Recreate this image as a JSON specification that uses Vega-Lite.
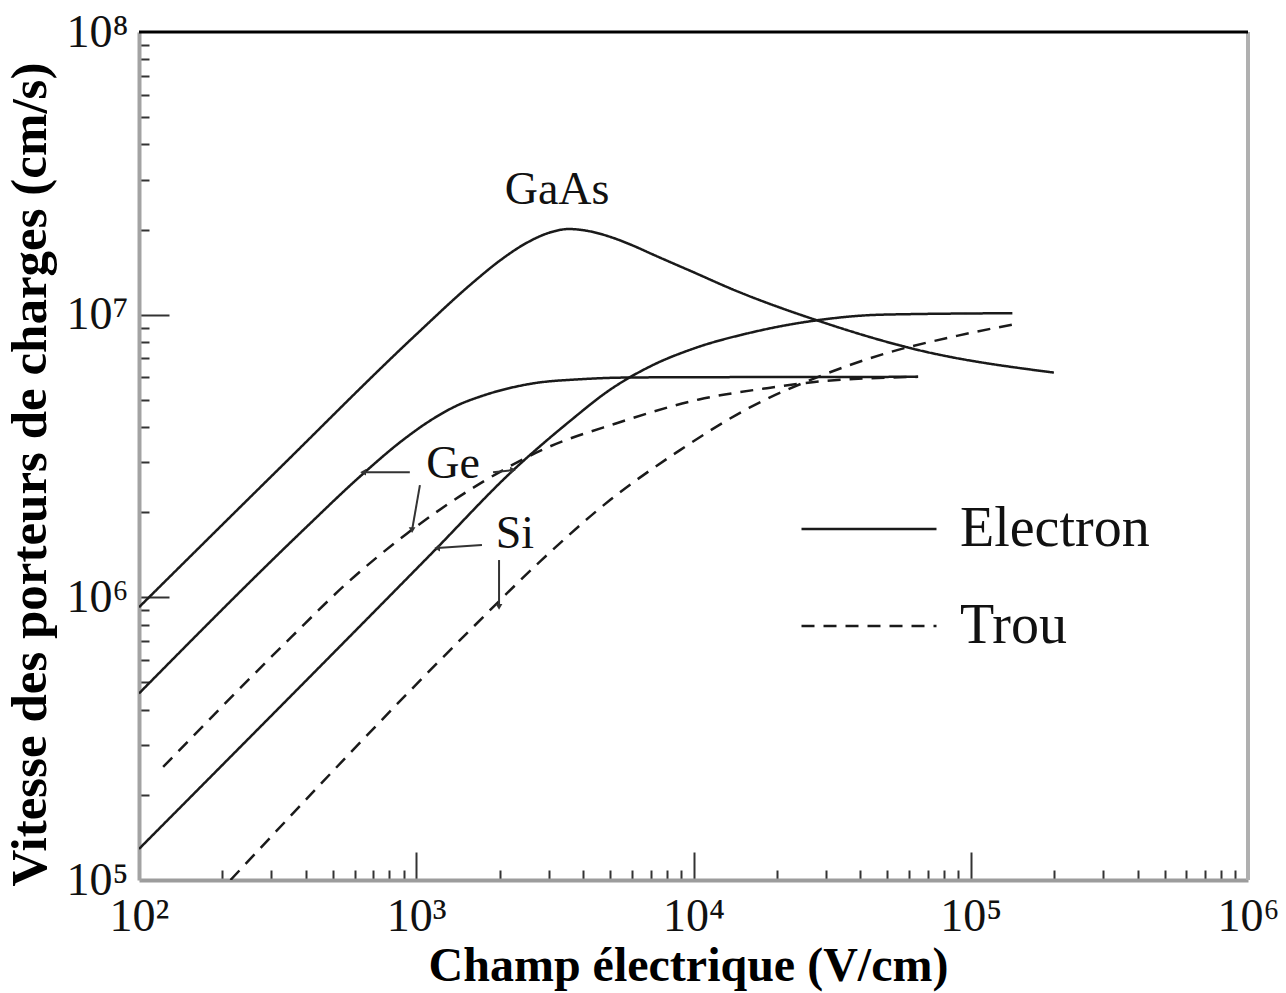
{
  "$schema": "https://vega.github.io/schema/vega-lite/v6.json",
  "width": 1109,
  "height": 848,
  "autosize": {"type": "none"},
  "padding": {"left": 139, "top": 32, "right": 38, "bottom": 113},
  "background": "white",
  "config": {"view": {"stroke": null}, "font": "Liberation Serif"},
  "datasets": {
    "curves": [
      {"curve": "GaAs-e", "porteur": "Electron", "E": 100, "v": 922600},
      {"curve": "GaAs-e", "porteur": "Electron", "E": 316.2, "v": 2818000},
      {"curve": "GaAs-e", "porteur": "Electron", "E": 1000, "v": 8511000},
      {"curve": "GaAs-e", "porteur": "Electron", "E": 1585, "v": 12880000},
      {"curve": "GaAs-e", "porteur": "Electron", "E": 1995, "v": 15490000},
      {"curve": "GaAs-e", "porteur": "Electron", "E": 2512, "v": 17990000},
      {"curve": "GaAs-e", "porteur": "Electron", "E": 3020, "v": 19500000},
      {"curve": "GaAs-e", "porteur": "Electron", "E": 3548, "v": 20090000},
      {"curve": "GaAs-e", "porteur": "Electron", "E": 4169, "v": 19770000},
      {"curve": "GaAs-e", "porteur": "Electron", "E": 5012, "v": 18840000},
      {"curve": "GaAs-e", "porteur": "Electron", "E": 6026, "v": 17580000},
      {"curve": "GaAs-e", "porteur": "Electron", "E": 7244, "v": 16220000},
      {"curve": "GaAs-e", "porteur": "Electron", "E": 10000, "v": 14130000},
      {"curve": "GaAs-e", "porteur": "Electron", "E": 13800, "v": 12300000},
      {"curve": "GaAs-e", "porteur": "Electron", "E": 27860, "v": 9550000},
      {"curve": "GaAs-e", "porteur": "Electron", "E": 64570, "v": 7499000},
      {"curve": "GaAs-e", "porteur": "Electron", "E": 199500, "v": 6237000},
      {"curve": "Ge-e", "porteur": "Electron", "E": 100, "v": 457100},
      {"curve": "Ge-e", "porteur": "Electron", "E": 398.1, "v": 1758000},
      {"curve": "Ge-e", "porteur": "Electron", "E": 631, "v": 2692000},
      {"curve": "Ge-e", "porteur": "Electron", "E": 891, "v": 3589000},
      {"curve": "Ge-e", "porteur": "Electron", "E": 1122, "v": 4217000},
      {"curve": "Ge-e", "porteur": "Electron", "E": 1413, "v": 4786000},
      {"curve": "Ge-e", "porteur": "Electron", "E": 1698, "v": 5129000},
      {"curve": "Ge-e", "porteur": "Electron", "E": 2570, "v": 5689000},
      {"curve": "Ge-e", "porteur": "Electron", "E": 3981, "v": 5916000},
      {"curve": "Ge-e", "porteur": "Electron", "E": 6310, "v": 5998000},
      {"curve": "Ge-e", "porteur": "Electron", "E": 64570, "v": 6026000},
      {"curve": "Si-e", "porteur": "Electron", "E": 100, "v": 128800},
      {"curve": "Si-e", "porteur": "Electron", "E": 1148, "v": 1445000},
      {"curve": "Si-e", "porteur": "Electron", "E": 2239, "v": 2818000},
      {"curve": "Si-e", "porteur": "Electron", "E": 3548, "v": 4169000},
      {"curve": "Si-e", "porteur": "Electron", "E": 5012, "v": 5433000},
      {"curve": "Si-e", "porteur": "Electron", "E": 7079, "v": 6607000},
      {"curve": "Si-e", "porteur": "Electron", "E": 10000, "v": 7586000},
      {"curve": "Si-e", "porteur": "Electron", "E": 15850, "v": 8610000},
      {"curve": "Si-e", "porteur": "Electron", "E": 27860, "v": 9550000},
      {"curve": "Si-e", "porteur": "Electron", "E": 47860, "v": 10000000},
      {"curve": "Si-e", "porteur": "Electron", "E": 141300, "v": 10120000},
      {"curve": "Ge-h", "porteur": "Trou", "E": 122.2, "v": 251200},
      {"curve": "Ge-h", "porteur": "Trou", "E": 354.8, "v": 724400},
      {"curve": "Ge-h", "porteur": "Trou", "E": 562.3, "v": 1122000},
      {"curve": "Ge-h", "porteur": "Trou", "E": 926.8, "v": 1683000},
      {"curve": "Ge-h", "porteur": "Trou", "E": 1702, "v": 2529000},
      {"curve": "Ge-h", "porteur": "Trou", "E": 2972, "v": 3388000},
      {"curve": "Ge-h", "porteur": "Trou", "E": 5248, "v": 4121000},
      {"curve": "Ge-h", "porteur": "Trou", "E": 10470, "v": 5012000},
      {"curve": "Ge-h", "porteur": "Trou", "E": 18410, "v": 5495000},
      {"curve": "Ge-h", "porteur": "Trou", "E": 29510, "v": 5821000},
      {"curve": "Ge-h", "porteur": "Trou", "E": 64570, "v": 6026000},
      {"curve": "Si-h", "porteur": "Trou", "E": 213.8, "v": 100000},
      {"curve": "Si-h", "porteur": "Trou", "E": 1585, "v": 776200},
      {"curve": "Si-h", "porteur": "Trou", "E": 2818, "v": 1349000},
      {"curve": "Si-h", "porteur": "Trou", "E": 5012, "v": 2213000},
      {"curve": "Si-h", "porteur": "Trou", "E": 8913, "v": 3311000},
      {"curve": "Si-h", "porteur": "Trou", "E": 15850, "v": 4677000},
      {"curve": "Si-h", "porteur": "Trou", "E": 28180, "v": 6026000},
      {"curve": "Si-h", "porteur": "Trou", "E": 50120, "v": 7328000},
      {"curve": "Si-h", "porteur": "Trou", "E": 89130, "v": 8414000},
      {"curve": "Si-h", "porteur": "Trou", "E": 141300, "v": 9226000}
    ],
    "arrows": [
      {"dir": "left", "x1": 948, "y1": 2770000, "x2": 643, "y2": 2770000},
      {"dir": "down", "x1": 1031, "y1": 2495000, "x2": 966, "y2": 1730000},
      {"dir": "right", "x1": 1892, "y1": 2770000, "x2": 2234, "y2": 2820000},
      {"dir": "left", "x1": 1726, "y1": 1531000, "x2": 1189, "y2": 1494000},
      {"dir": "down", "x1": 1989, "y1": 1355000, "x2": 1989, "y2": 925000}
    ],
    "labels": [
      {"label": "GaAs", "E": 3221, "v": 27600000},
      {"label": "Ge", "E": 1357, "v": 2960000},
      {"label": "Si", "E": 2270, "v": 1675000}
    ],
    "frame": [
      {"E": 1000000, "v": 100000000}
    ]
  },
  "layer": [
    {
      "data": {"name": "curves"},
      "mark": {"type": "line", "interpolate": "monotone", "strokeWidth": 2.5, "color": "#1a1a1a", "clip": true},
      "encoding": {
        "x": {
          "field": "E", "type": "quantitative",
          "scale": {"type": "log", "domain": [100, 1000000], "nice": false},
          "axis": {
            "values": [100,200,300,400,500,600,700,800,900,1000,2000,3000,4000,5000,6000,7000,8000,9000,10000,20000,30000,40000,50000,60000,70000,80000,90000,100000,200000,300000,400000,500000,600000,700000,800000,900000,1000000],
            "labelExpr": "datum.value == 100 ? '10²' : datum.value == 1000 ? '10³' : datum.value == 10000 ? '10⁴' : datum.value == 100000 ? '10⁵' : datum.value == 1000000 ? '10⁶' : ''",
            "title": "Champ électrique (V/cm)",
            "titleFont": "Liberation Serif", "titleFontWeight": "bold", "titleFontSize": 48, "titleColor": "#000",
            "titleX": 549, "titleY": 62,
            "labelFont": "Liberation Serif", "labelFontSize": 46, "labelColor": "#111",
            "labelPadding": 42, "labelFlush": false, "labelOverlap": false,
            "domain": true, "domainColor": "#9c9c9c", "domainWidth": 4,
            "grid": false, "tickWidth": 2,
            "tickColor": {"condition": {"test": "datum.value == 100 || datum.value == 1000000", "value": "transparent"}, "value": "#333"},
            "tickSize": {"condition": {"test": "datum.value == 100 || datum.value == 1000 || datum.value == 10000 || datum.value == 100000 || datum.value == 1000000", "value": -28}, "value": -10}
          }
        },
        "y": {
          "field": "v", "type": "quantitative",
          "scale": {"type": "log", "domain": [100000, 100000000], "nice": false},
          "axis": {
            "values": [100000,200000,300000,400000,500000,600000,700000,800000,900000,1000000,2000000,3000000,4000000,5000000,6000000,7000000,8000000,9000000,10000000,20000000,30000000,40000000,50000000,60000000,70000000,80000000,90000000,100000000],
            "labelExpr": "datum.value == 100000 ? '10⁵' : datum.value == 1000000 ? '10⁶' : datum.value == 10000000 ? '10⁷' : datum.value == 100000000 ? '10⁸' : ''",
            "title": "Vitesse des porteurs de charges (cm/s)",
            "titleFont": "Liberation Serif", "titleFontWeight": "bold", "titleFontSize": 51, "titleColor": "#000",
            "titleX": -83, "titleY": 442,
            "labelFont": "Liberation Serif", "labelFontSize": 46, "labelColor": "#111",
            "labelPadding": 41, "labelFlush": false, "labelOverlap": false,
            "domain": true, "domainColor": "#a3a3a3", "domainWidth": 4,
            "grid": false, "tickWidth": 2,
            "tickColor": {"condition": {"test": "datum.value == 100000 || datum.value == 100000000", "value": "transparent"}, "value": "#333"},
            "tickSize": {"condition": {"test": "datum.value == 100000 || datum.value == 1000000 || datum.value == 10000000 || datum.value == 100000000", "value": -30}, "value": -10}
          }
        },
        "detail": {"field": "curve"},
        "strokeDash": {
          "field": "porteur", "type": "nominal",
          "scale": {"domain": ["Electron", "Trou"], "range": [[1, 0], [13, 9]]},
          "legend": {
            "orient": "none", "legendX": 661, "legendY": 428, "title": null,
            "symbolType": "stroke", "symbolSize": 18225, "symbolStrokeWidth": 2.5, "symbolStrokeColor": "#1a1a1a",
            "labelFont": "Liberation Serif", "labelFontSize": 56, "labelColor": "#111", "labelOffset": 22,
            "rowPadding": -12, "labelLimit": 400
          }
        }
      }
    },
    {
      "data": {"name": "arrows"},
      "mark": {"type": "rule", "strokeWidth": 2, "color": "#333"},
      "encoding": {
        "x": {"field": "x1", "type": "quantitative"},
        "y": {"field": "y1", "type": "quantitative"},
        "x2": {"field": "x2"},
        "y2": {"field": "y2"}
      }
    },
    {
      "data": {"name": "arrows"},
      "mark": {"type": "point", "filled": true, "size": 45, "color": "#333", "opacity": 1},
      "encoding": {
        "x": {"field": "x2", "type": "quantitative"},
        "y": {"field": "y2", "type": "quantitative"},
        "shape": {"field": "dir", "type": "nominal", "scale": {"domain": ["left", "down", "right"], "range": ["triangle-left", "triangle-down", "triangle-right"]}, "legend": null}
      }
    },
    {
      "data": {"name": "labels"},
      "mark": {"type": "text", "font": "Liberation Serif", "fontSize": 46, "color": "#111"},
      "encoding": {
        "x": {"field": "E", "type": "quantitative"},
        "y": {"field": "v", "type": "quantitative"},
        "text": {"field": "label"}
      }
    },
    {
      "data": {"name": "frame"},
      "mark": {"type": "rule", "color": "#b0b0b0", "strokeWidth": 4},
      "encoding": {"x": {"field": "E", "type": "quantitative"}}
    },
    {
      "data": {"name": "frame"},
      "mark": {"type": "rule", "color": "#000", "strokeWidth": 3},
      "encoding": {"y": {"field": "v", "type": "quantitative"}}
    }
  ]
}
